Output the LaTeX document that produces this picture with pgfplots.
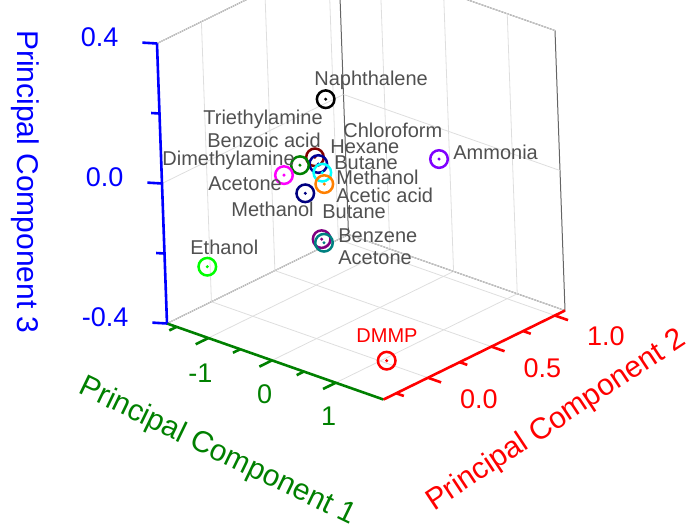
\documentclass[border=0pt]{standalone}
\usepackage{fontspec}
\setmainfont{Liberation Sans}
\usepackage{pgfplots}
\pgfplotsset{compat=1.18}
\definecolor{pcgreen}{RGB}{0,128,0}
\definecolor{labgray}{RGB}{80,80,80}
\definecolor{boxgray}{RGB}{100,100,100}
\definecolor{gridgray}{RGB}{222,222,222}
\definecolor{cmaroon}{RGB}{128,0,0}
\definecolor{cblue}{RGB}{0,0,150}
\definecolor{ccyan}{RGB}{0,255,255}
\definecolor{corange}{RGB}{255,128,0}
\definecolor{cnavy}{RGB}{0,0,128}
\definecolor{cgreen}{RGB}{0,128,0}
\definecolor{cmagenta}{RGB}{255,0,255}
\definecolor{cviolet}{RGB}{128,0,255}
\definecolor{cpurple}{RGB}{128,0,128}
\definecolor{cteal}{RGB}{0,128,128}
\definecolor{clime}{RGB}{0,255,0}
\definecolor{cred}{RGB}{255,0,0}

\pgfdeclareplotmark{odot}{%
  \pgfpathcircle{\pgfpointorigin}{\pgfplotmarksize}%
  \pgfusepathqstroke
  \pgfpathcircle{\pgfpointorigin}{0.85pt}%
  \pgfusepathqfill}

\pgfplotsset{dotmark/.style={only marks, mark=odot, mark size=4.4pt,
  mark options={draw=#1, fill=#1, line width=1.25pt, solid}},
  tk/.style={#1, line width=1.3pt, forget plot}}

\tikzset{lab/.style={text=labgray, inner sep=0pt, anchor=base west,
  font=\fontsize{10}{12}\selectfont}}

\begin{document}
\begin{tikzpicture}
\begin{axis}[
  x={(31.84pt,-11.18pt)}, y={(63.46pt,31.12pt)}, z={(-6.25pt,175pt)},
  xmin=-1.65, xmax=1.75, ymin=-0.35, ymax=1.08, zmin=-0.4, zmax=0.4,
  xtick={-1,0,1},
  ytick={0,0.5,1},
  ztick={-0.4,0,0.4},
  grid=major,
  major grid style={draw=gridgray, line width=0.4pt},
  axis line style={draw=boxgray, line width=0.5pt},
  tick align=outside,
  major tick length=7pt,
  xtick style={draw=none},
  ytick style={draw=none},
  ztick style={draw=none},
  /pgf/number format/assume math mode=true,
  xticklabel style={font=\fontsize{13.5}{14}\selectfont, text=pcgreen, xshift=8pt, yshift=-5pt},
  yticklabel style={font=\fontsize{13.5}{14}\selectfont, text=red, xshift=11pt, yshift=2.5pt,
    /pgf/number format/.cd, fixed, fixed zerofill, precision=1},
  zticklabel style={font=\fontsize{13.5}{14}\selectfont, text=blue, xshift=-9.5pt, yshift=7pt,
    /pgf/number format/.cd, fixed, fixed zerofill, precision=1},
  clip=false,
]
% coloured axis lines
\addplot3[tk=pcgreen] coordinates {(-1.65,-0.35,-0.4) (1.75,-0.35,-0.4)};
\addplot3[tk=red] coordinates {(1.75,-0.35,-0.4) (1.75,1.08,-0.4)};
\addplot3[tk=blue] coordinates {(-1.65,-0.35,-0.4) (-1.65,-0.35,0.4)};
% x ticks (major and minor)
\addplot3[tk=pcgreen] coordinates {(-1.5,-0.35,-0.4) (-1.5,-0.407,-0.4)};
\addplot3[tk=pcgreen] coordinates {(-1,-0.35,-0.4) (-1,-0.45,-0.4)};
\addplot3[tk=pcgreen] coordinates {(-0.5,-0.35,-0.4) (-0.5,-0.407,-0.4)};
\addplot3[tk=pcgreen] coordinates {(0,-0.35,-0.4) (0,-0.45,-0.4)};
\addplot3[tk=pcgreen] coordinates {(0.5,-0.35,-0.4) (0.5,-0.407,-0.4)};
\addplot3[tk=pcgreen] coordinates {(1,-0.35,-0.4) (1,-0.45,-0.4)};
% y ticks
\addplot3[tk=red] coordinates {(1.75,-0.25,-0.4) (1.87,-0.25,-0.4)};
\addplot3[tk=red] coordinates {(1.75,0,-0.4) (1.957,0,-0.4)};
\addplot3[tk=red] coordinates {(1.75,0.25,-0.4) (1.87,0.25,-0.4)};
\addplot3[tk=red] coordinates {(1.75,0.5,-0.4) (1.957,0.5,-0.4)};
\addplot3[tk=red] coordinates {(1.75,0.75,-0.4) (1.87,0.75,-0.4)};
\addplot3[tk=red] coordinates {(1.75,1,-0.4) (1.957,1,-0.4)};
% z ticks
\addplot3[tk=blue] coordinates {(-1.65,-0.35,-0.4) (-1.80,-0.39,-0.4)};
\addplot3[tk=blue] coordinates {(-1.65,-0.35,-0.2) (-1.735,-0.373,-0.2)};
\addplot3[tk=blue] coordinates {(-1.65,-0.35,0) (-1.80,-0.39,0)};
\addplot3[tk=blue] coordinates {(-1.65,-0.35,0.2) (-1.735,-0.373,0.2)};
\addplot3[tk=blue] coordinates {(-1.65,-0.35,0.4) (-1.80,-0.39,0.4)};
% data
\addplot3[dotmark=black]    coordinates {(0.282,0,0.302)};
\addplot3[dotmark=cmaroon]  coordinates {(0.079,0,0.123)};
\addplot3[dotmark=cblue]    coordinates {(0.128,0,0.107)};
\addplot3[dotmark=ccyan]    coordinates {(0.187,0,0.086)};
\addplot3[dotmark=corange]  coordinates {(0.212,0,0.055)};
\addplot3[dotmark=cgreen]   coordinates {(-0.164,0,0.085)};
\addplot3[dotmark=cmagenta] coordinates {(-0.424,0,0.040)};
\addplot3[dotmark=cnavy]    coordinates {(-0.096,0,0.009)};
\addplot3[dotmark=cpurple]  coordinates {(0.139,0,-0.107)};
\addplot3[dotmark=cteal]    coordinates {(0.174,0,-0.115)};
\addplot3[dotmark=clime]    coordinates {(-1.490,-0.1,-0.272)};
\addplot3[dotmark=cviolet]  coordinates {(-0.003,1.0,-0.065)};
\addplot3[dotmark=cred]     coordinates {(1.679,-0.28,-0.306)};
\coordinate (O) at (axis cs:-1.65,-0.35,-0.4);
\end{axis}
\begin{scope}[x=0.5pt, y=-0.5pt, shift={(O)}, shift={(-167,-323.5)}]
\node[lab] at (314,86) {Naphthalene};
\node[lab] at (203,125) {Triethylamine};
\node[lab] at (207,148) {Benzoic acid};
\node[lab] at (343,138) {Chloroform};
\node[lab] at (330,154) {Hexane};
\node[lab] at (162,166) {Dimethylamine};
\node[lab] at (334,170) {Butane};
\node[lab] at (336,185) {Methanol};
\node[lab] at (208,191) {Acetone};
\node[lab] at (336,203) {Acetic acid};
\node[lab] at (231,217) {Methanol};
\node[lab] at (322,219) {Butane};
\node[lab] at (338,243) {Benzene};
\node[lab] at (338,265) {Acetone};
\node[lab] at (190,255) {Ethanol};
\node[lab] at (453,160) {Ammonia};
\node[lab, text=red] at (356,343) {DMMP};
\node[text=pcgreen, inner sep=0pt, anchor=base, rotate=-25.8,
  font=\fontsize{15}{18}\selectfont] at (213.7,459) {Principal Component 1};
\node[text=red, inner sep=0pt, anchor=base, rotate=33.5,
  font=\fontsize{15}{18}\selectfont] at (560.7,427.4) {Principal Component 2};
\node[text=blue, inner sep=0pt, anchor=center, rotate=-90,
  font=\fontsize{15}{18}\selectfont] at (25,182) {Principal Component 3};
\end{scope}
\pgfresetboundingbox
\begin{scope}[x=0.5pt, y=-0.5pt, shift={(O)}, shift={(-167,-323.5)}]
\path[use as bounding box] (0,0) rectangle (697,529);
\end{scope}
\end{tikzpicture}
\end{document}
